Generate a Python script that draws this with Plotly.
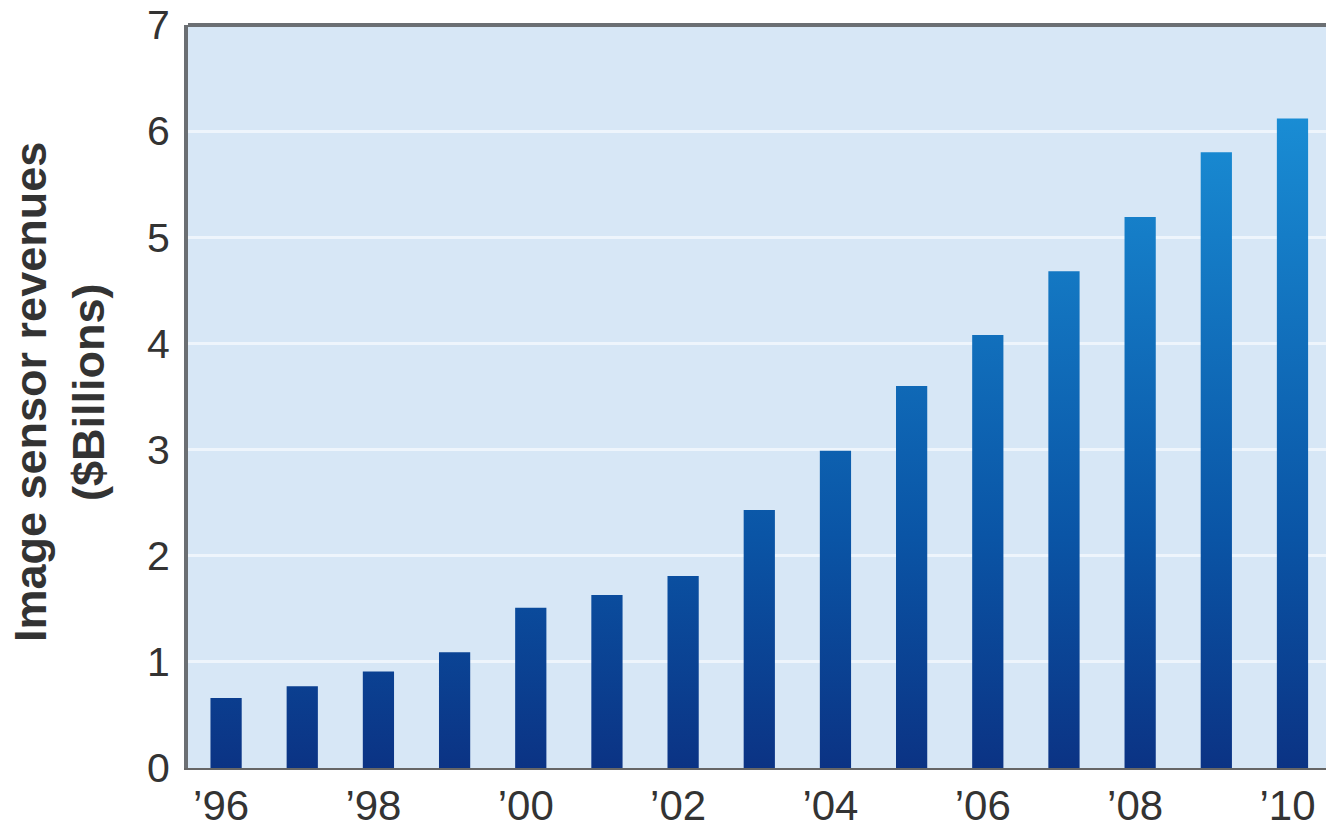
import plotly.graph_objects as go

years = [1996, 1997, 1998, 1999, 2000, 2001, 2002, 2003, 2004, 2005, 2006, 2007, 2008, 2009, 2010]
revenues = [0.66, 0.77, 0.91, 1.09, 1.51, 1.63, 1.81, 2.43, 2.99, 3.60, 4.08, 4.68, 5.19, 5.80, 6.12]
tick_years = [1996, 1998, 2000, 2002, 2004, 2006, 2008, 2010]
tick_labels = ["’96", "’98", "’00", "’02", "’04", "’06", "’08", "’10"]
y_ticks = [0, 1, 2, 3, 4, 5, 6, 7]
title_lines = ["Image sensor revenues", "($Billions)"]

bar_half = 0.205

# bar outlines in data units, as separate segments of one filled trace
xs, ys = [], []
for yr, v in zip(years, revenues):
    xs += [yr - bar_half, yr - bar_half, yr + bar_half, yr + bar_half, yr - bar_half, None]
    ys += [0, v, v, 0, 0, None]

fig = go.Figure()
fig.add_trace(go.Scatter(
    x=xs, y=ys, mode="lines", fill="toself",
    line=dict(width=0, color="rgba(0,0,0,0)"),
    fillgradient=dict(type="vertical", start=0, stop=6.3,
                      colorscale=[[0, "#0b3384"], [0.35, "#0a55a6"], [1, "#1a8fd6"]]),
    hoverinfo="skip", showlegend=False,
))

fig.update_layout(
    width=1326, height=830,
    margin=dict(l=188, r=0, t=25, b=62),
    paper_bgcolor="white",
    plot_bgcolor="#d7e7f6",
    font=dict(family="Liberation Sans, Arial, sans-serif", color="#333333"),
    showlegend=False,
)
fig.update_xaxes(
    range=[1995.5, 2010.44],
    tickmode="array", tickvals=tick_years, ticktext=tick_labels,
    tickfont=dict(size=42, color="#333333"),
    ticklabelshift=-5, ticklabelstandoff=0,
    showgrid=False, zeroline=False, ticks="",
    showline=True, linecolor="#666666", linewidth=2,
)
fig.update_yaxes(
    range=[0, 7],
    tickmode="array", tickvals=y_ticks,
    tickfont=dict(size=41, color="#333333"),
    showgrid=True, gridcolor="#eef5fc", gridwidth=3,
    zeroline=False, ticks="", ticklabelstandoff=6,
    showline=True, linecolor="#6b6f73", linewidth=4,
)
# top border of the plot area
fig.add_shape(type="line", xref="paper", yref="paper", x0=0, x1=1, y0=1, y1=1,
              line=dict(color="#6b6f73", width=4))

# two-line y-axis title
for txt, shift in zip(title_lines, [-158, -100]):
    fig.add_annotation(text="<b>" + txt + "</b>", xref="paper", yref="paper",
                       x=0, y=0.506, xshift=shift, xanchor="center", yanchor="middle",
                       textangle=-90, showarrow=False,
                       font=dict(size=45, color="#333333"))

fig.write_html("out.html", config={"displayModeBar": False},
               post_script="document.body.style.margin='0';document.body.style.overflow='hidden';")
